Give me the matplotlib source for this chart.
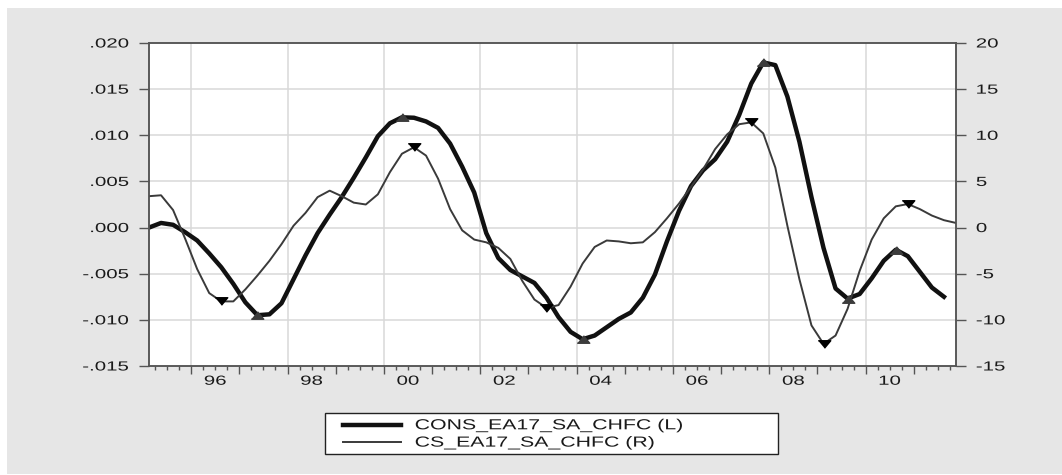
"""EA17 consumption growth vs. consumer sentiment, quarterly 1995-2011."""
import matplotlib
matplotlib.use("Agg")
import matplotlib.pyplot as plt
from matplotlib.lines import Line2D
from matplotlib.patches import Rectangle
from matplotlib.patheffects import AbstractPathEffect
from matplotlib.transforms import Affine2D
import numpy as np
import pandas as pd

plt.rcParams["font.family"] = ["Liberation Sans", "DejaVu Sans"]

START = "1995Q1"
# CONS_EA17_SA_CHFC, left axis
CONS = [0.0000, 0.0005, 0.0003, -0.0005, -0.0014, -0.0028, -0.0043, -0.0061,
        -0.0081, -0.0095, -0.0094, -0.0082, -0.0056, -0.0030, -0.0006, 0.0014,
        0.0033, 0.0054, 0.0076, 0.0099, 0.0113, 0.01195, 0.0119, 0.0115,
        0.0108, 0.0091, 0.0066, 0.0038, -0.0006, -0.0033, -0.0046, -0.0053,
        -0.0060, -0.0076, -0.0097, -0.0113, -0.0121, -0.0117, -0.0108, -0.0099,
        -0.0092, -0.0076, -0.0051, -0.0015, 0.0018, 0.0045, 0.0062, 0.0074,
        0.0093, 0.0122, 0.0156, 0.0179, 0.0176, 0.0142, 0.0093, 0.0033,
        -0.0022, -0.0066, -0.0077, -0.0072, -0.0055, -0.0036, -0.0024, -0.0031,
        -0.0048, -0.0065, -0.0075]
# CS_EA17_SA_CHFC, right axis
CS = [3.4, 3.5, 1.9, -1.2, -4.5, -7.1, -8.0, -8.0,
      -6.7, -5.2, -3.6, -1.8, 0.2, 1.6, 3.3, 4.0,
      3.4, 2.7, 2.5, 3.6, 6.0, 8.0, 8.7, 7.8,
      5.3, 2.0, -0.3, -1.3, -1.6, -2.2, -3.4, -5.8,
      -7.8, -8.7, -8.4, -6.4, -3.9, -2.1, -1.4, -1.5,
      -1.7, -1.6, -0.5, 1.0, 2.6, 4.4, 6.3, 8.5,
      10.1, 11.2, 11.4, 10.2, 6.5, 0.2, -5.6, -10.6,
      -12.6, -11.7, -8.8, -4.7, -1.3, 1.0, 2.3, 2.55,
      2.0, 1.3, 0.8, 0.5]
CONS_TURNS = [9, 21, 36, 51, 58, 62]
CS_TURNS = [6, 22, 33, 50, 56, 63]

LEFT_TICKS = [0.020, 0.015, 0.010, 0.005, 0.000, -0.005, -0.010, -0.015]
LEFT_LABELS = [".020", ".015", ".010", ".005", ".000", "-.005", "-.010", "-.015"]
RIGHT_TICKS = [20, 15, 10, 5, 0, -5, -10, -15]
LABEL_YEARS = [1996, 1998, 2000, 2002, 2004, 2006, 2008, 2010]
YEAR_LABELS = ["96", "98", "00", "02", "04", "06", "08", "10"]
LEGEND = ["CONS_EA17_SA_CHFC (L)", "CS_EA17_SA_CHFC (R)"]

W, H = 1062, 475
PANEL = "#e6e6e6"
AXC = "#555555"
GRID = "#d9d9d9"


class Widen(AbstractPathEffect):
    """Draw text glyphs stretched horizontally around one edge."""

    def __init__(self, sx, anchor="center"):
        super().__init__()
        self.sx, self.anchor = sx, anchor

    def draw_path(self, renderer, gc, tpath, affine, rgbFace=None):
        ext = tpath.get_extents(affine)
        x0 = {"left": ext.x0, "right": ext.x1}.get(self.anchor, 0.5 * (ext.x0 + ext.x1))
        t = affine + Affine2D().translate(-x0, 0).scale(self.sx, 1).translate(x0, 0)
        renderer.draw_path(gc, tpath, t, rgbFace)


def fx(px): return px / W
def fy(py): return 1 - py / H


def quarter_positions(n):
    p = pd.period_range(START, periods=n, freq="Q")
    return np.asarray(p.year + (p.quarter - 0.5) / 4, dtype=float)


def main():
    x_cons = quarter_positions(len(CONS))
    x_cs = quarter_positions(len(CS))
    cons, cs = np.asarray(CONS), np.asarray(CS)

    fig = plt.figure(figsize=(W / 100, H / 100), dpi=100)
    fig.patches.append(Rectangle((fx(7), fy(474)), fx(W - 7), (474 - 8) / H,
                                 transform=fig.transFigure, fc=PANEL, ec="none", zorder=-10))

    ax = fig.add_axes([fx(149), fy(366), fx(956 - 149), (366 - 43) / H])
    ax2 = ax.twinx()

    ax.set_xlim(x_cs[0], x_cs[-1]); ax.set_ylim(-0.015, 0.020)
    ax2.set_ylim(-15, 20)

    # grid: every left tick, every second year
    for v in LEFT_TICKS[1:-1]:
        ax.axhline(v, color=GRID, lw=1.1, zorder=0.5)
    for yr in LABEL_YEARS:
        ax.axvline(yr, color=GRID, lw=1.1, zorder=0.5)

    ax.plot(x_cons, cons, color="#111111", lw=3.2, solid_joinstyle="round", zorder=2)
    ax.plot(x_cons[CONS_TURNS], cons[CONS_TURNS], ls="none", color="#3c3c3c",
            marker=[(-1, -0.6), (1, -0.6), (0, 0.6)], markersize=9, zorder=3)
    ax2.plot(x_cs, cs, color="#3a3a3a", lw=1.4, zorder=2)
    ax2.plot(x_cs[CS_TURNS], cs[CS_TURNS], ls="none", color="black",
             marker=[(-1, 0.6), (1, 0.6), (0, -0.6)], markersize=9, zorder=3)

    ax.set_yticks(LEFT_TICKS, LEFT_LABELS)
    ax2.set_yticks(RIGHT_TICKS, [str(v) for v in RIGHT_TICKS])
    years = np.arange(1996, 2012)
    ax.set_xticks(years, [""] * len(years))
    ax.set_xticks(np.arange(1995.25, 2011.9, 0.25), minor=True)
    ax.tick_params(axis="x", which="major", length=5.5, width=1, color=AXC)
    ax.tick_params(axis="x", which="minor", length=3, width=1, color=AXC)
    ax.tick_params(axis="y", length=7.5, width=1, color=AXC, pad=7, labelsize=9.5, labelcolor="#1a1a1a")
    ax2.tick_params(axis="y", length=7.5, width=1, color=AXC, pad=7, labelsize=9.5, labelcolor="#1a1a1a")

    sec = ax.secondary_xaxis("bottom")
    sec.set_xticks([y + 0.5 for y in LABEL_YEARS], YEAR_LABELS)
    sec.tick_params(length=0, pad=7, labelsize=9.5, labelcolor="#1a1a1a")
    sec.spines["bottom"].set_visible(False)

    for a in (ax, ax2):
        for s in a.spines.values():
            s.set_color(AXC); s.set_linewidth(1.1)

    for lab in ax.get_yticklabels():
        lab.set_path_effects([Widen(1.55, "right")])
    for lab in ax2.get_yticklabels():
        lab.set_path_effects([Widen(1.55, "left")])
    for lab in sec.get_xticklabels():
        lab.set_path_effects([Widen(1.55, "center")])

    # legend box under the plot
    fig.patches.append(Rectangle((fx(325), fy(454)), fx(778 - 325), (454 - 413) / H,
                                 transform=fig.transFigure, fc="white", ec="#222222", lw=1))
    styles = [dict(color="#111111", lw=3.2), dict(color="#3a3a3a", lw=1.4)]
    for row, (name, st) in enumerate(zip(LEGEND, styles)):
        ly = 424.5 + row * 17.3
        fig.add_artist(Line2D([fx(343), fx(401)], [fy(ly), fy(ly)],
                              transform=fig.transFigure, **st))
        fig.text(fx(415), fy(ly + 4.8), name, ha="left", va="baseline", fontsize=10.5,
                 color="#1a1a1a", path_effects=[Widen(1.46, "left")])

    fig.savefig("out.png", dpi=100, facecolor="white")
    plt.close(fig)


if __name__ == "__main__":
    main()
